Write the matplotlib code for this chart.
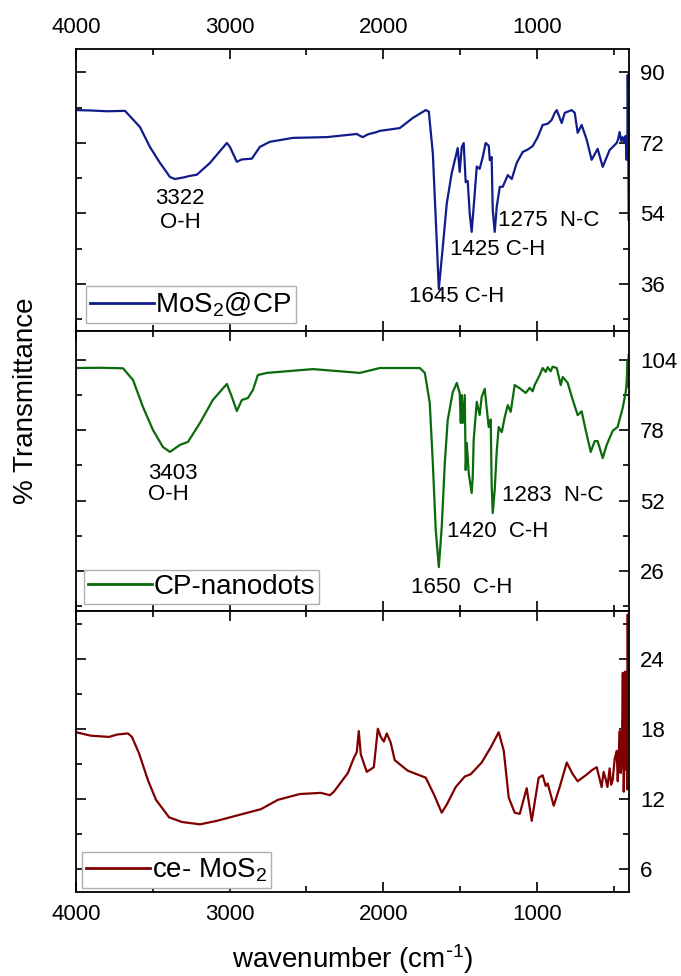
import numpy as np
import matplotlib.pyplot as plt
from matplotlib.ticker import MultipleLocator

plt.rcParams['font.family'] = ['Liberation Sans', 'DejaVu Sans']
plt.rcParams['mathtext.default'] = 'regular'

# MoS2@CP spectrum (wavenumber, %T)
wn_cp = [4000, 3900, 3800, 3681, 3584, 3519, 3453, 3388, 3356, 3300, 3258, 3213, 3128,
         3018, 2998, 2953, 2920, 2855, 2803, 2738, 2588, 2367, 2172, 2150, 2133, 2100,
         2042, 2022, 1892, 1807, 1723, 1703, 1677, 1651, 1638, 1612, 1586, 1554, 1515,
         1502, 1489, 1476, 1463, 1450, 1437, 1424, 1404, 1391, 1372, 1352, 1333, 1313,
         1306, 1294, 1287, 1274, 1261, 1241, 1222, 1189, 1163, 1131, 1092, 1060, 1027,
         994, 962, 929, 903, 883, 870, 838, 818, 773, 753, 734, 708, 675, 643, 604, 571,
         526, 500, 480, 470, 461, 450, 441, 430, 422, 415, 410, 408, 404, 402]
t_cp = [80.4, 80.3, 80.1, 80.2, 76.1, 71.0, 66.9, 63.3, 62.8, 63.2, 63.6, 63.9, 66.9,
        72.0, 71.0, 67.2, 67.8, 68.0, 71.0, 72.3, 73.3, 73.5, 74.3, 73.8, 73.5, 74.2,
        74.8, 75.1, 75.8, 78.4, 80.4, 80.0, 69.4, 46.5, 34.7, 45.5, 56.6, 64.3, 70.7,
        64.6, 70.9, 72.0, 62.0, 62.3, 54.1, 49.3, 59.2, 66.0, 65.4, 68.4, 72.0, 71.3,
        67.6, 68.4, 54.9, 49.3, 55.7, 60.8, 60.8, 63.8, 62.8, 66.9, 69.7, 70.3, 71.2,
        73.5, 76.6, 76.9, 77.9, 79.7, 80.4, 77.1, 79.7, 80.4, 79.7, 74.6, 76.6, 72.8,
        67.7, 70.5, 65.9, 70.2, 71.2, 72.0, 73.0, 74.8, 72.5, 73.5, 72.0, 73.8, 67.7,
        75.0, 89.4, 70.0, 52.4]

# CP-nanodots spectrum
wn_nd = [4000, 3850, 3694, 3629, 3564, 3499, 3434, 3388, 3323, 3271, 3193, 3109, 3018,
         2985, 2953, 2920, 2881, 2848, 2816, 2757, 2458, 2152, 2022, 1762, 1729, 1697,
         1677, 1658, 1638, 1619, 1599, 1580, 1547, 1521, 1502, 1495, 1489, 1482, 1469,
         1463, 1456, 1443, 1424, 1417, 1411, 1391, 1372, 1359, 1339, 1326, 1313, 1300,
         1294, 1287, 1274, 1261, 1248, 1228, 1209, 1189, 1170, 1144, 1111, 1072, 1046,
         1027, 1014, 981, 962, 942, 929, 910, 897, 870, 844, 831, 799, 766, 734, 708,
         682, 649, 623, 604, 571, 545, 506, 474, 441, 420, 415, 408, 404, 402]
t_nd = [101.0, 101.1, 100.9, 96.6, 86.6, 78.1, 71.8, 70.0, 72.6, 73.7, 80.7, 89.2, 95.1,
        90.3, 85.1, 89.2, 89.9, 92.9, 98.4, 99.2, 100.6, 99.2, 101.0, 101.0, 99.2, 88.1,
        65.9, 41.1, 27.4, 42.2, 65.9, 81.8, 92.1, 95.5, 91.7, 80.7, 91.0, 80.7, 91.0,
        63.3, 73.3, 62.0, 54.8, 61.0, 74.4, 88.5, 83.6, 90.3, 93.3, 86.0, 79.2, 82.0,
        58.1, 47.4, 56.0, 70.3, 79.2, 77.3, 82.8, 87.3, 84.8, 94.7, 93.5, 91.8, 93.7,
        92.4, 94.7, 98.4, 101.0, 99.6, 101.3, 99.8, 101.5, 101.0, 94.7, 97.7, 95.5, 89.2,
        83.6, 85.0, 78.1, 70.0, 74.0, 74.0, 67.7, 72.6, 77.8, 79.2, 86.2, 92.5, 96.0,
        104.0, 94.0, 105.8]

# ce-MoS2 spectrum
wn_ce = [4000, 3902, 3785, 3733, 3662, 3636, 3590, 3532, 3479, 3394, 3310, 3193, 3083,
         2940, 2796, 2686, 2543, 2406, 2347, 2321, 2230, 2191, 2172, 2159, 2146, 2107,
         2061, 2035, 2016, 1996, 1977, 1951, 1925, 1840, 1723, 1671, 1619, 1586, 1528,
         1469, 1430, 1359, 1300, 1248, 1215, 1183, 1144, 1111, 1066, 1033, 988, 962,
         942, 929, 890, 851, 805, 766, 734, 682, 636, 610, 578, 565, 552, 540, 526, 516,
         506, 493, 480, 473, 467, 460, 454, 447, 440, 434, 428, 424, 421, 416, 412,
         408, 405, 402]
t_ce = [17.7, 17.4, 17.3, 17.5, 17.6, 17.3, 15.9, 13.6, 11.9, 10.4, 10.0, 9.8, 10.1,
        10.6, 11.1, 11.9, 12.4, 12.5, 12.3, 12.6, 14.2, 15.5, 16.0, 17.8, 15.8, 14.3,
        14.7, 18.0, 17.3, 16.9, 17.6, 16.8, 15.3, 14.4, 13.8, 12.4, 10.8, 11.5, 13.0,
        13.9, 14.1, 15.1, 16.4, 17.7, 16.1, 12.1, 10.8, 10.7, 12.9, 10.1, 13.8, 14.0,
        13.1, 13.3, 11.4, 13.0, 15.1, 14.1, 13.5, 14.0, 14.5, 14.7, 13.0, 14.3, 13.7,
        13.0, 14.6, 13.2, 13.6, 15.4, 16.1, 13.5, 15.6, 17.8, 14.2, 15.0, 22.8, 12.6,
        17.5, 22.9, 14.5, 20.5, 12.8, 27.8, 18.0, 22.0]

labels = ['MoS$_2$@CP', 'CP-nanodots', 'ce- MoS$_2$']
colors = ['#101c8a', '#0b6a0b', '#800000']
ylims = [(24, 96), (11.2, 114.7), (4, 28.1)]
ymajor = [18, 26, 6]

fig = plt.figure(figsize=(6.81, 9.76), dpi=100)
left, right = 0.1116, 0.9236
bounds = [(0.6609, 0.9498), (0.3740, 0.6609), (0.0861, 0.3740)]
axes = []
for b, t in bounds:
    axes.append(fig.add_axes([left, b, right - left, t - b]))

data = [(wn_cp, t_cp), (wn_nd, t_nd), (wn_ce, t_ce)]
legend_pos = [(0.018, 0.028), (0.0145, 0.025), (0.011, 0.014)]

for i, ax in enumerate(axes):
    x, y = data[i]
    ax.plot(x, y, color=colors[i], lw=1.6, label=labels[i])
    ax.set_xlim(4000, 400)
    ax.set_ylim(*ylims[i])
    ax.xaxis.set_major_locator(MultipleLocator(1000))
    ax.xaxis.set_minor_locator(MultipleLocator(500))
    ax.yaxis.set_major_locator(MultipleLocator(ymajor[i]))
    ax.yaxis.set_minor_locator(MultipleLocator(ymajor[i] / 2))
    ax.tick_params(which='both', direction='in', top=True, bottom=True, left=True, right=True,
                   labelleft=False, labelright=True, labelbottom=(i == 2), labeltop=(i == 0),
                   labelsize=16, width=1.2)
    ax.tick_params(which='major', length=7, pad=8)
    ax.tick_params(which='minor', length=4)
    ax.tick_params(axis='x', which='major', pad=9)
    if i == 0:
        ax.tick_params(axis='x', which='major', pad=8)
    for s in ax.spines.values():
        s.set_linewidth(1.3)
    leg = ax.legend(loc='lower left', bbox_to_anchor=legend_pos[i], borderaxespad=0,
                    fontsize=20, handlelength=2.3, handletextpad=0.05, borderpad=0.15,
                    fancybox=False, framealpha=1, edgecolor='#b0b0b0')
    leg.get_frame().set_linewidth(1.0)
    for line in leg.get_lines():
        line.set_linewidth(2.0)

# band assignments
ax1, ax2, ax3 = axes
ax1.text(3322, 54.8, '3322\nO-H', fontsize=16, ha='center', va='center', linespacing=1.15)
ax1.text(1833, 32.7, '1645 C-H', fontsize=16, ha='left', va='center')
ax1.text(1567, 44.9, '1425 C-H', fontsize=16, ha='left', va='center')
ax1.text(1254, 52.1, '1275  N-C', fontsize=16, ha='left', va='center')

ax2.text(3532, 58.1, '3403\nO-H', fontsize=16, ha='left', va='center', linespacing=0.95)
ax2.text(1820, 20.0, '1650  C-H', fontsize=16, ha='left', va='center')
ax2.text(1586, 40.7, '1420  C-H', fontsize=16, ha='left', va='center')
ax2.text(1228, 54.0, '1283  N-C', fontsize=16, ha='left', va='center')

ax3.set_xlabel(r'wavenumber (cm$^{\text{-}1}$)', fontsize=20, labelpad=12)
fig.text(26 / 681, 0.589, '% Transmittance', fontsize=20, rotation=90,
         ha='center', va='center')

plt.savefig('out.png', dpi=100)
